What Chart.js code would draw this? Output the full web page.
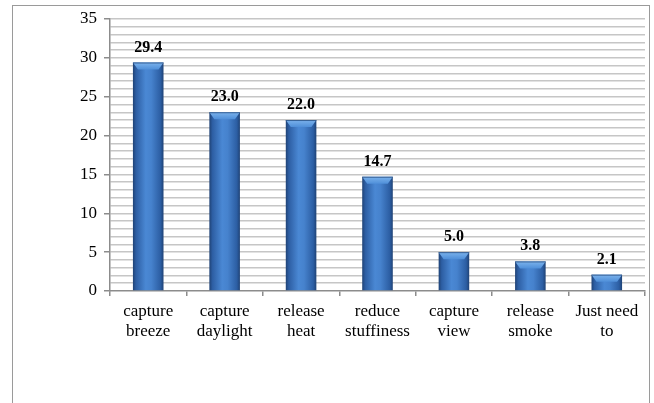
<!DOCTYPE html>
<html>
<head>
<meta charset="utf-8">
<script src="https://cdn.jsdelivr.net/npm/chart.js@4/dist/chart.umd.min.js"></script>
<style>
  html, body { margin: 0; padding: 0; background: #ffffff; overflow: hidden; }
  #wrap { position: relative; width: 654px; height: 403px; }
  #frame {
    position: absolute; left: 12px; top: 5px; width: 638px; height: 460px;
    border: 1.5px solid #9a9a9a; box-sizing: border-box;
  }
  canvas { position: absolute; left: 0; top: 0; }
</style>
</head>
<body>
<div id="wrap">
  <div id="frame"></div>
  <canvas id="c" width="654" height="403"></canvas>
</div>
<script>
// Reasons for opening windows (%)
const categories = [
  ['capture', 'breeze'],
  ['capture', 'daylight'],
  ['release', 'heat'],
  ['reduce', 'stuffiness'],
  ['capture', 'view'],
  ['release', 'smoke'],
  ['Just need', 'to']
];
const values = [29.4, 23.0, 22.0, 14.7, 5.0, 3.8, 2.1];
const yTickLabels = [0, 5, 10, 15, 20, 25, 30, 35];

const SERIF = '"Liberation Serif", "Times New Roman", serif';
const BAR_PCT = 0.4;

// Horizontal shading that gives each bar a rounded, cylinder-like look
function barFill(ctx) {
  const chart = ctx.chart;
  const xs = chart.scales.x;
  if (!xs || !chart.chartArea || ctx.dataIndex === undefined) return '#3f78c0';
  const cx = xs.getPixelForValue(ctx.dataIndex);
  const w = (chart.chartArea.width / categories.length) * BAR_PCT;
  if (!isFinite(cx) || !isFinite(w)) return '#3f78c0';
  const g = chart.ctx.createLinearGradient(cx - w / 2, 0, cx + w / 2, 0);
  g.addColorStop(0, '#1f4275');
  g.addColorStop(0.1, '#2d5ea3');
  g.addColorStop(0.42, '#4a88d4');
  g.addColorStop(0.6, '#4682cd');
  g.addColorStop(0.9, '#2c5ea3');
  g.addColorStop(1, '#1f4275');
  return g;
}

// Bevelled top face on each bar plus the value written above it
const barDecor = {
  id: 'barDecor',
  afterDatasetsDraw(chart) {
    const c = chart.ctx;
    const meta = chart.getDatasetMeta(0);
    meta.data.forEach((bar, i) => {
      const w = bar.width, left = bar.x - w / 2, right = bar.x + w / 2, top = bar.y;
      const h = Math.min(7, (bar.base - bar.y) / 2);
      const inset = 5;
      c.save();
      const g = c.createLinearGradient(0, top, 0, top + h);
      g.addColorStop(0, '#7cb3ec');
      g.addColorStop(1, '#4f8fd9');
      c.fillStyle = g;
      c.beginPath();
      c.moveTo(left, top);
      c.lineTo(right, top);
      c.lineTo(right - inset, top + h);
      c.lineTo(left + inset, top + h);
      c.closePath();
      c.fill();
      c.strokeStyle = 'rgba(30,65,115,0.7)';
      c.lineWidth = 1;
      c.beginPath();
      c.moveTo(left, top + 0.5);
      c.lineTo(right, top + 0.5);
      c.stroke();
      c.restore();

      c.save();
      c.font = 'bold 16px ' + SERIF;
      c.fillStyle = '#000000';
      c.textAlign = 'center';
      c.textBaseline = 'alphabetic';
      c.fillText(values[i].toFixed(1), bar.x, top - 11);
      c.restore();
    });
  }
};

new Chart(document.getElementById('c'), {
  type: 'bar',
  data: {
    labels: categories,
    datasets: [{
      data: values,
      backgroundColor: barFill,
      borderWidth: 0,
      barPercentage: BAR_PCT,
      categoryPercentage: 1.0
    }]
  },
  options: {
    responsive: false,
    animation: false,
    devicePixelRatio: 1,
    layout: { padding: { left: 0, top: 19, right: 9, bottom: 0 } },
    plugins: { legend: { display: false }, tooltip: { enabled: false } },
    scales: {
      x: {
        afterFit(scale) { scale.height = 112; },
        border: { display: true, color: '#8c8c8c', width: 1.5 },
        grid: { offset: true, drawOnChartArea: false, drawTicks: true, tickLength: 5, color: '#8c8c8c', lineWidth: 1.5 },
        ticks: {
          color: '#000000',
          padding: 5,
          maxRotation: 0,
          autoSkip: false,
          font: { family: SERIF, size: 17, lineHeight: 1.2 }
        }
      },
      y: {
        min: 0,
        max: 35,
        afterFit(scale) { scale.width = 110; },
        afterBuildTicks(scale) {
          const t = [];
          for (let v = 0; v <= 35; v++) t.push({ value: v });
          scale.ticks = t;
        },
        border: { display: true, color: '#8c8c8c', width: 1.5 },
        grid: {
          color: (ctx) => ctx.tick && ctx.tick.value === 0 ? 'rgba(0,0,0,0)' : '#c6c6c6',
          lineWidth: 1.5,
          drawTicks: true,
          tickLength: 6,
          tickColor: (ctx) => ctx.tick && yTickLabels.includes(ctx.tick.value) ? '#8c8c8c' : 'rgba(0,0,0,0)'
        },
        ticks: {
          color: '#000000',
          padding: 7,
          autoSkip: false,
          font: { family: SERIF, size: 17 },
          callback: (v) => yTickLabels.includes(v) ? String(v) : ''
        }
      }
    }
  },
  plugins: [barDecor]
});
</script>
</body>
</html>
